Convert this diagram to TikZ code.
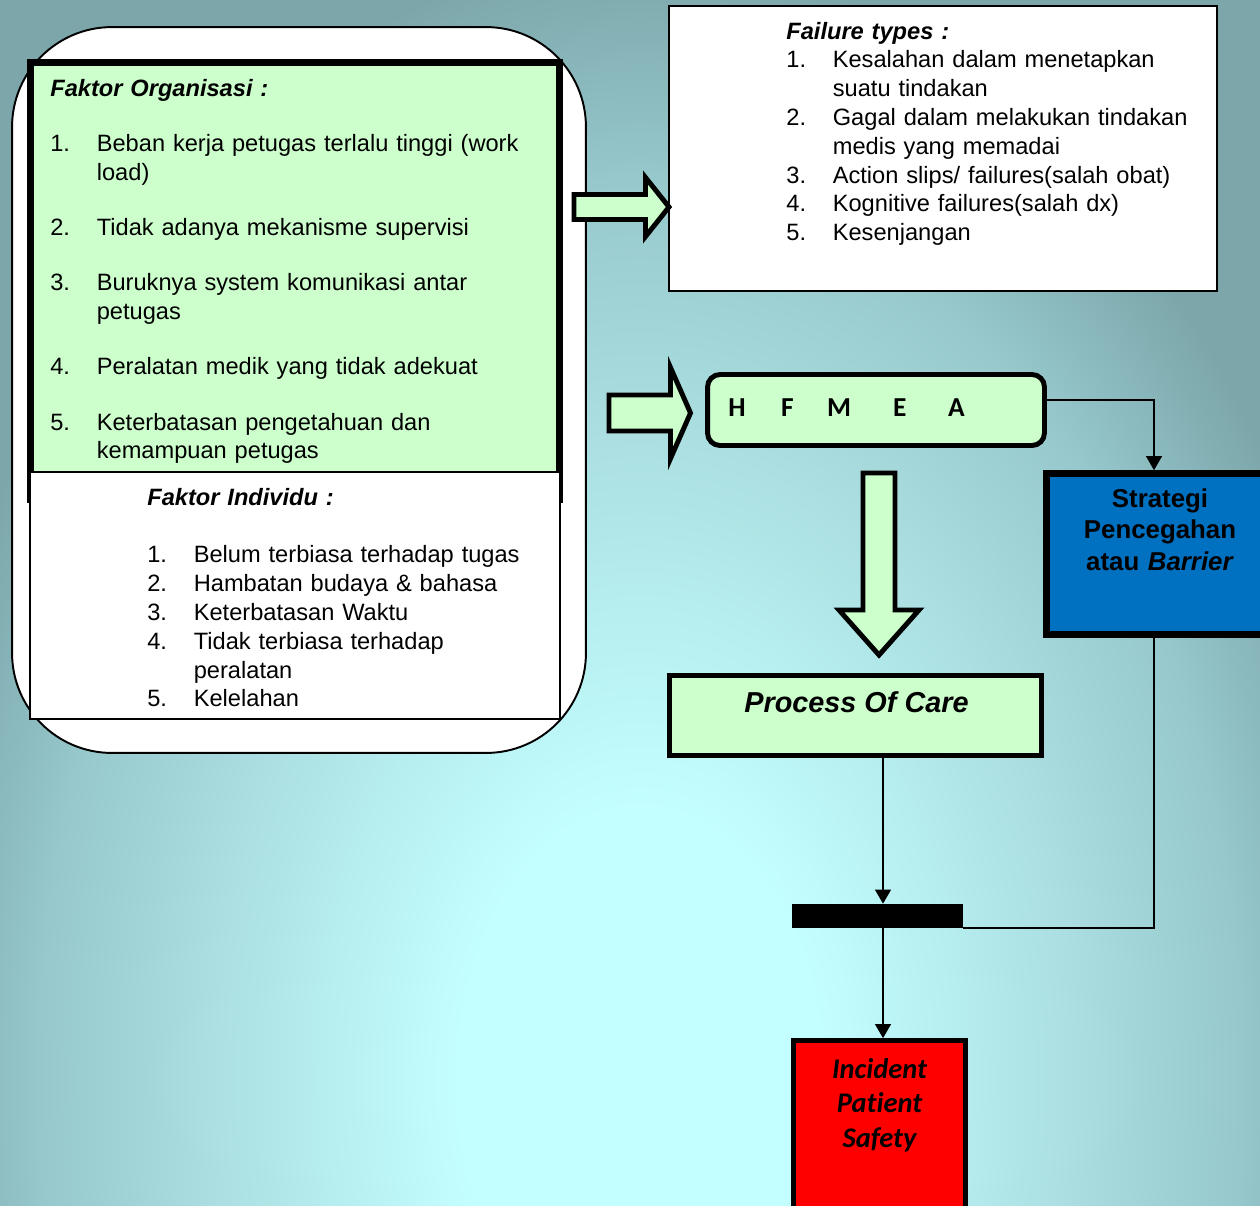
\documentclass[tikz,border=0pt]{standalone}
\usepackage{fontspec}
\setmainfont{Liberation Sans}
\newfontfamily\calfont[Ligatures=NoCommon]{Carlito}
\usetikzlibrary{positioning,arrows.meta}

\definecolor{bgin}{HTML}{C4FFFF}
\definecolor{bgmid}{HTML}{ACE0E2}
\definecolor{bgdim}{HTML}{96C8CC}
\definecolor{bgout}{HTML}{7CA6AA}
\definecolor{mint}{HTML}{CCFFCC}
\definecolor{barrierblue}{HTML}{0070C0}
\pgfdeclareradialshading{bgglow}{\pgfpoint{0bp}{0bp}}{color(0bp)=(bgin); color(6bp)=(bgin); color(14bp)=(bgmid); color(20bp)=(bgdim); color(25bp)=(bgout); color(50bp)=(bgout)}

\newcommand{\numitem}[2]{\makebox[0.93cm][l]{#1}#2}
\newcommand{\hang}{\hspace*{0.93cm}}

\begin{document}
\begin{tikzpicture}[x=0.02cm, y=-0.02cm,
  every node/.style={inner sep=0pt},
  panel/.style={draw, line width=1.1pt, fill=white},
  orgpanel/.style={draw, line width=4pt, fill=mint},
  heavybox/.style={draw, line width=3pt},
  listtext/.style={anchor=base west, text width=11cm, align=left, font={\fontsize{13.45pt}{16.4pt}\selectfont}},
  blockarrow/.style={draw, line width=2.8pt, fill=mint},
  link/.style={line width=1pt, ->, >={Triangle[length=8pt,width=9pt]}}]

  \useasboundingbox (0,0) rectangle (1260,1205);
  \clip (0,0) rectangle (1260,1205);
  \fill[bgout] (0,0) rectangle (1260,1205);
  \shade[shading=bgglow] (640,1080) ellipse [x radius=15cm, y radius=22.5cm];

  \node[panel, rounded corners=2cm, minimum width=11.48cm, minimum height=14.52cm] (factors) at (299,390) {};
  \node[orgpanel, minimum width=10.58cm, minimum height=8.74cm] (orgbox) at (295,281) {};
  \node[panel, line width=1pt, minimum width=10.6cm, minimum height=4.94cm] (indivbox) at (295,595.5) {};

  \node[listtext] (orgtext) at (50,96) {\textbf{\textit{Faktor Organisasi :}}\\[0.53cm]
    \numitem{1.}{Beban kerja petugas terlalu tinggi (work}\\
    \hang load)\\[0.53cm]
    \numitem{2.}{Tidak adanya mekanisme supervisi}\\[0.53cm]
    \numitem{3.}{Buruknya system komunikasi antar}\\
    \hang petugas\\[0.53cm]
    \numitem{4.}{Peralatan medik yang tidak adekuat}\\[0.53cm]
    \numitem{5.}{Keterbatasan pengetahuan dan}\\
    \hang kemampuan petugas};

  \node[listtext] (indivtext) at (147,505) {\textbf{\textit{Faktor Individu :}}\\[0.58cm]
    \numitem{1.}{Belum terbiasa terhadap tugas}\\
    \numitem{2.}{Hambatan budaya \& bahasa}\\
    \numitem{3.}{Keterbatasan Waktu}\\
    \numitem{4.}{Tidak terbiasa terhadap}\\
    \hang peralatan\\
    \numitem{5.}{Kelelahan}};

  \node[panel, minimum width=10.96cm, minimum height=5.7cm] (failbox) at (943,148.5) {};
  \node[listtext] (failtext) at (786,39) {\textbf{\textit{Failure types :}}\\
    \numitem{1.}{Kesalahan dalam menetapkan}\\
    \hang suatu tindakan\\
    \numitem{2.}{Gagal dalam melakukan tindakan}\\
    \hang medis yang memadai\\
    \numitem{3.}{Action slips/ failures(salah obat)}\\
    \numitem{4.}{Kognitive failures(salah dx)}\\
    \numitem{5.}{Kesenjangan}};

  \node[draw, line width=2.8pt, fill=mint, rounded corners=0.25cm, minimum width=6.74cm, minimum height=1.42cm] (hfmea) at (876,410) {};
  \node[anchor=base west, font={\calfont\bfseries\fontsize{15.6pt}{18pt}\selectfont}] (hfmeatext) at (728,416)
    {H\hspace{0.71cm}F\hspace{0.67cm}M\hspace{0.84cm}E\hspace{0.83cm}A};

  \node[heavybox, line width=3.8pt, fill=barrierblue, minimum width=4.54cm, minimum height=3.22cm] (strategy) at (1160,554) {};
  \node[anchor=base, text width=4.4cm, align=center, font={\fontsize{14.7pt}{18.1pt}\selectfont\bfseries}] (strategytext) at (1160,507)
    {Strategi\\Pencegahan\\atau \textit{Barrier}};

  \node[heavybox, line width=2.8pt, fill=mint, minimum width=7.44cm, minimum height=1.6cm] (process) at (855.5,715.5) {};
  \node[anchor=base, font={\fontsize{16.4pt}{19pt}\selectfont\bfseries\itshape}] (processtext) at (856.5,712) {Process Of Care};

  \node[fill=black, minimum width=3.42cm, minimum height=0.48cm] (bar) at (877.5,916) {};

  \node[heavybox, fill=red, minimum width=3.44cm, minimum height=3.89cm] (incident) at (879.5,1138) {};
  \node[anchor=base, text width=3.4cm, align=center, font={\calfont\fontsize{16.2pt}{19.8pt}\selectfont\bfseries\itshape}] (incidenttext) at (879.5,1078)
    {Incident\\Patient\\Safety};

  \coordinate (orgarrow) at (574,207);
  \coordinate (hfmeaarrow) at (609,413);
  \coordinate (carearrow) at (879,473);
  \draw[blockarrow] (orgarrow) +(0,-12.5) -- +(71.5,-12.5) -- +(71.5,-29.5) -- +(95,0)
    -- +(71.5,29.5) -- +(71.5,12.5) -- +(0,12.5) -- cycle;
  \draw[blockarrow] (hfmeaarrow) +(0,-18) -- +(61.5,-18) -- +(61.5,-45.5) -- +(81.5,0)
    -- +(61.5,45.5) -- +(61.5,18) -- +(0,18) -- cycle;
  \draw[blockarrow] (carearrow) +(-16,0) -- +(16,0) -- +(16,137) -- +(40,137) -- +(0,182)
    -- +(-40,137) -- +(-16,137) -- cycle;

  \coordinate (drop) at (883,0);
  \coordinate (feed) at (1154,0);
  \draw[link] ([yshift=0.2cm]hfmea.east) -| (strategy.north -| feed);
  \draw[line width=1pt] (strategy.south -| feed) |- (bar.south east);
  \draw[link] (process.south -| drop) -- (bar.north -| drop);
  \draw[link] (bar.south -| drop) -- (incident.north -| drop);
\end{tikzpicture}
\end{document}
